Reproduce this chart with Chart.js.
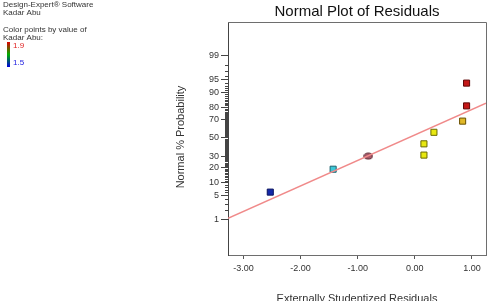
<!doctype html>
<html lang="en">
    <head>
        <meta charset="UTF-8" />
        <title>Normal Plot of Residuals</title>
        <script src="https://cdn.jsdelivr.net/npm/chart.js"></script>
        <style>
            body { margin: 0; background: #fff; }
            canvas { display: block; }
        </style>
    </head>

    <body>
        <canvas id="residualChart" width="494" height="301"></canvas>
        <script>
            // values
            const residuals = [-2.53, -1.43, -0.815, 0.159, 0.159, 0.334, 0.836, 0.905, 0.905]
            const probabilities = [6.1, 18.5, 30, 31, 43, 56, 68, 81.6, 93.9]
            const fitResiduals = [-3.27, 1.245]
            const fitProbabilities = [1.1, 83.6]
            const probTicks = [1, 5, 10, 20, 30, 50, 70, 80, 90, 95, 99]
            const residualTicks = [-3, -2, -1, 0, 1]

            // marker looks (colour by Kadar Abu value)
            const pointFill = ['#1428a8', '#3cc8d8', '#a85868', '#e8e810', '#e8e810', '#e8e810', '#e0b828', '#c41818', '#c41818']
            const pointEdge = ['#0a1460', '#1e6470', '#5a2830', '#6a6a00', '#6a6a00', '#6a6a00', '#6a5000', '#600808', '#600808']

            // inverse normal cdf (Acklam)
            function probit(p) {
                const a = [-39.69683028665376, 220.9460984245205, -275.9285104469687, 138.357751867269, -30.66479806614716, 2.506628277459239]
                const b = [-54.47609879822406, 161.5858368580409, -155.6989798598866, 66.80131188771972, -13.28068155288572]
                const c = [-0.007784894002430293, -0.3223964580411365, -2.400758277161838, -2.549732539343734, 4.374664141464968, 2.938163982698783]
                const d = [0.007784695709041462, 0.3224671290700398, 2.445134137142996, 3.754408661907416]
                const pl = 0.02425
                let q, r
                if (p < pl) {
                    q = Math.sqrt(-2 * Math.log(p))
                    return (((((c[0] * q + c[1]) * q + c[2]) * q + c[3]) * q + c[4]) * q + c[5]) / ((((d[0] * q + d[1]) * q + d[2]) * q + d[3]) * q + 1)
                }
                if (p > 1 - pl) {
                    q = Math.sqrt(-2 * Math.log(1 - p))
                    return -(((((c[0] * q + c[1]) * q + c[2]) * q + c[3]) * q + c[4]) * q + c[5]) / ((((d[0] * q + d[1]) * q + d[2]) * q + d[3]) * q + 1)
                }
                q = p - 0.5
                r = q * q
                return (((((a[0] * r + a[1]) * r + a[2]) * r + a[3]) * r + a[4]) * r + a[5]) * q / (((((b[0] * r + b[1]) * r + b[2]) * r + b[3]) * r + b[4]) * r + 1)
            }
            const z = (pct) => probit(pct / 100)

            // ellipse marker for the overlapping point
            const ellipse = document.createElement('canvas')
            ellipse.width = 10
            ellipse.height = 8
            const ec = ellipse.getContext('2d')
            ec.beginPath()
            ec.ellipse(5, 4, 4.2, 3, 0, 0, Math.PI * 2)
            ec.fillStyle = pointFill[2]
            ec.fill()
            ec.strokeStyle = pointEdge[2]
            ec.lineWidth = 1
            ec.stroke()

            const FONT = '"Liberation Sans", Arial, sans-serif'

            const decorations = {
                id: 'decorations',
                afterDraw(chart) {
                    const { ctx, chartArea: ca, scales } = chart
                    ctx.save()

                    // top and right frame lines
                    ctx.strokeStyle = '#6e6e6e'
                    ctx.lineWidth = 1
                    ctx.beginPath()
                    ctx.moveTo(ca.left, ca.top + 0.5)
                    ctx.lineTo(ca.right + 0.5, ca.top + 0.5)
                    ctx.lineTo(ca.right + 0.5, ca.bottom)
                    ctx.stroke()

                    // minor ticks on the probability axis
                    ctx.strokeStyle = '#444'
                    ctx.beginPath()
                    for (let p = 1; p <= 99; p++) {
                        if (probTicks.includes(p)) continue
                        const y = Math.round(scales.y.getPixelForValue(z(p))) + 0.5
                        ctx.moveTo(ca.left - 3, y)
                        ctx.lineTo(ca.left, y)
                    }
                    ctx.stroke()

                    // title
                    ctx.fillStyle = '#111'
                    ctx.textAlign = 'center'
                    ctx.textBaseline = 'middle'
                    ctx.font = '15px ' + FONT
                    ctx.fillText('Normal Plot of Residuals', 357, 12)

                    // axis titles
                    ctx.font = '11px ' + FONT
                    ctx.fillStyle = '#333'
                    ctx.textBaseline = 'alphabetic'
                    ctx.fillText('Externally Studentized Residuals', 357, 302)
                    ctx.textBaseline = 'middle'
                    ctx.save()
                    ctx.translate(181, 137)
                    ctx.rotate(-Math.PI / 2)
                    ctx.fillText('Normal % Probability', 0, 0)
                    ctx.restore()

                    // software note and colour key
                    ctx.textAlign = 'left'
                    ctx.font = '8px ' + FONT
                    ctx.fillStyle = '#333'
                    ctx.fillText('Design-Expert\u00ae Software', 3, 5)
                    ctx.fillText('Kadar Abu', 3, 13)
                    ctx.fillText('Color points by value of', 3, 30)
                    ctx.fillText('Kadar Abu:', 3, 38)
                    const g = ctx.createLinearGradient(0, 42, 0, 67)
                    g.addColorStop(0, '#e00000')
                    g.addColorStop(0.5, '#00b000')
                    g.addColorStop(1, '#0000e0')
                    ctx.fillStyle = g
                    ctx.fillRect(7, 42, 3, 25)
                    ctx.fillStyle = '#e02020'
                    ctx.fillText('1.9', 13, 46)
                    ctx.fillStyle = '#2020e0'
                    ctx.fillText('1.5', 13, 63)

                    ctx.restore()
                },
            }

            const ctx = document.getElementById('residualChart').getContext('2d')
            new Chart(ctx, {
                type: 'scatter',
                data: {
                    datasets: [
                        {
                            type: 'line',
                            label: 'fit',
                            data: fitResiduals.map((x, i) => ({ x, y: z(fitProbabilities[i]) })),
                            borderColor: '#f08a8a',
                            borderWidth: 1.5,
                            pointRadius: 0,
                            fill: false,
                        },
                        {
                            label: 'residuals',
                            data: residuals.map((x, i) => ({ x, y: z(probabilities[i]) })),
                            pointStyle: residuals.map((_, i) => (i === 2 ? ellipse : 'rect')),
                            pointRadius: 4.3,
                            pointBackgroundColor: pointFill,
                            pointBorderColor: pointEdge,
                            pointBorderWidth: 1,
                        },
                    ],
                },
                options: {
                    responsive: false,
                    animation: false,
                    devicePixelRatio: 1,
                    layout: { padding: { top: 22, right: 8, left: 0, bottom: 0 } },
                    plugins: {
                        legend: { display: false },
                        tooltip: { enabled: false },
                    },
                    scales: {
                        x: {
                            type: 'linear',
                            min: -3.27,
                            max: 1.245,
                            afterBuildTicks: (s) => { s.ticks = residualTicks.map((v) => ({ value: v })) },
                            afterFit: (s) => { s.height = 46 },
                            grid: { drawOnChartArea: false, tickLength: 4, color: '#555' },
                            border: { color: '#6e6e6e', width: 1 },
                            ticks: {
                                padding: 4,
                                color: '#333',
                                font: { family: FONT, size: 9 },
                                callback: (v) => v.toFixed(2),
                            },
                        },
                        y: {
                            type: 'linear',
                            min: -3.33,
                            max: 3.28,
                            afterBuildTicks: (s) => { s.ticks = probTicks.map((p) => ({ value: z(p) })) },
                            afterFit: (s) => { s.width = 228 },
                            grid: { drawOnChartArea: false, tickLength: 7, color: '#444' },
                            border: { color: '#444', width: 1 },
                            ticks: {
                                padding: 2,
                                color: '#333',
                                font: { family: FONT, size: 9 },
                                callback: (v, i) => String(probTicks[i]),
                            },
                        },
                    },
                },
                plugins: [decorations],
            })
        </script>
    </body>
</html>
